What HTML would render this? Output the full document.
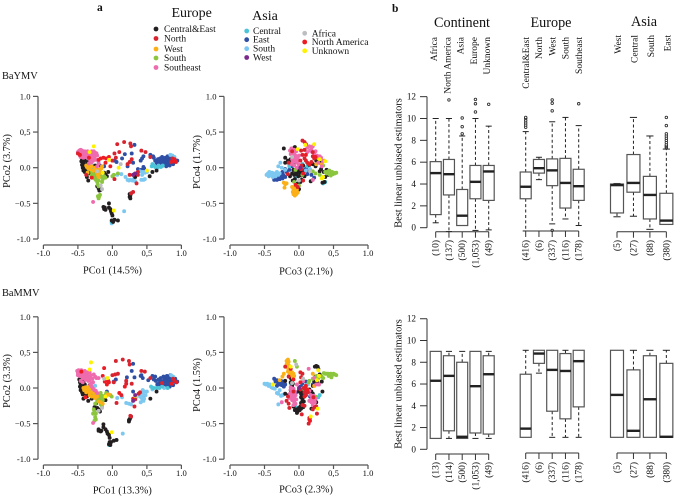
<!DOCTYPE html>
<html><head><meta charset="utf-8"><title>BaYMV and BaMMV PCoA and boxplots</title>
<style>html,body{margin:0;padding:0;background:#fff}svg{display:block;font-family:"Liberation Serif",serif;filter:blur(0.3px)}</style>
</head><body>
<svg id="fig" width="677" height="497" viewBox="0 0 677 497" xmlns="http://www.w3.org/2000/svg"></svg>
<script>
const seriesNames = ['East','SouthAsia','CentralAsia','CentralEast','South','West','Southeast','North','NorthAmerica','Unknown','Africa','WestAsia'];
const seriesColors = ['#2f4fa5','#7cc8f0','#4cc4d8','#231f20','#8cc63f','#fbb017','#ee6cae','#d9232e','#ed1c24','#fff200','#bcbec0','#7b2a8c'];
const xTickValues = [-1,-0.5,0,0.5,1];
const xTickLabels = ['-1.0','-0.5','0.0','0,5','1.0'];
const yTickLabels = ['-1.0','\u22120.5','0.0','0,5','1.0'];

/* BaYMV PCo1 / PCo2 */
const p1East = [[.62,.1],[.64,.07],[.66,.12],[.66,.05],[.68,.09],[.69,.13],[.7,.06],[.7,.03],[.72,.1],[.72,.15],[.73,.07],[.74,.12],[.75,.04],[.76,.09],[.77,.14],[.78,.07],[.78,.02],[.79,.11],[.8,.16],[.8,.05],[.81,.09],[.82,.13],[.83,.03],[.83,.07],[.84,.11],[.85,.15],[.86,.07],[.87,.1],[.88,.05],[.89,.13],[.9,.09],[.92,.1],[.94,.1],[.6,.14],[.55,.18],[.59,.16],[.18,.19],[.28,.2],[.32,.32],[.03,.1],[.06,.08],[.45,.16],[.43,.13],[.41,.1],[.45,.01],[.3,.07],[.22,.02],[.37,-.02],[.46,-.01],[.42,-.03],[.32,-.09],[.14,.13],[-.18,.03],[-.12,.02],[.71,.08],[.74,.09],[.76,.06],[.75,.12],[.78,.1],[.8,.12],[.82,.08],[.84,.06],[.86,.12],[.79,.05],[.77,.11],[.73,.13],[.68,.12],[.85,.13],[.88,.1],[.83,.14],[.81,.15],[.9,.11]];
const p1SouthAsia = [[.07,-.1],[.13,-.09],[.19,-.13],[.22,-.17],[.24,-.18],[.26,-.17],[.29,-.18],[.31,-.16],[.33,-.19],[.42,-.17],[.45,-.17],[.47,-.16],[.4,-.05],[.44,-.06],[.47,-.07],[.5,-.06],[.43,-.1],[.17,-.61],[-.01,-.78],[.84,.18],[.87,.17],[.9,.15],[-.3,.05],[-.25,.02],[-.2,.08],[.72,.02]];
const p1CentralAsia = [[.58,.05],[.6,.03],[.62,.01],[.65,0],[.67,.03],[.7,.01],[.73,.03],[.57,.02],[-.01,-.76],[-.28,-.02],[-.35,.1]];
const p1CentralEast = [[-.45,.16],[-.44,.12],[-.45,.09],[-.43,.07],[-.44,.04],[-.42,.02],[-.43,0],[-.41,.05],[-.4,.1],[-.42,-.04],[-.4,-.06],[-.38,-.01],[-.36,.08],[-.33,.12],[-.37,-.13],[-.35,-.18],[-.3,-.13],[-.27,-.06],[-.24,-.12],[-.22,-.26],[-.2,-.29],[-.19,-.32],[-.17,-.31],[-.12,-.07],[-.1,-.1],[-.08,-.12],[-.06,-.06],[-.13,-.55],[-.12,-.58],[-.11,-.56],[-.1,-.59],[-.05,-.5],[-.05,-.56],[-.03,-.58],[-.02,-.61],[-.01,-.64],[0,-.67],[-.01,-.74],[.01,-.76],[.03,-.73],[.08,-.74],[.25,-.37],[.26,-.39],[.25,-.41],[.26,-.43],[.27,-.36],[.54,-.12],[.64,-.04],[.33,-.13],[.58,-.06],[-.39,.03],[-.37,-.05],[-.34,-.08],[-.41,-.01],[-.33,-.03],[-.25,.03]];
const p1South = [[-.34,-.02],[-.3,-.05],[-.27,-.09],[-.25,-.1],[-.24,-.17],[-.22,-.2],[-.21,-.24],[-.2,-.18],[-.2,-.26],[-.15,-.2],[-.2,-.43],[-.19,-.4],[-.18,-.38],[-.21,-.4],[-.12,-.12],[-.1,-.14],[0,-.12],[.02,-.1],[.08,-.08],[-.18,-.1],[-.16,-.13],[-.3,-.1],[-.26,-.15],[-.23,-.14],[-.14,-.16]];
const p1West = [[-.38,.03],[-.37,.01],[-.35,-.01],[-.34,.04],[-.32,-.02],[-.36,-.07],[-.25,0],[-.22,-.03],[-.2,-.03],[-.18,-.05],[-.19,-.08],[-.21,-.1],[-.23,-.06],[-.16,-.01],[-.15,.02],[-.2,-.13],[-.28,-.04],[-.3,.02],[-.33,.0],[-.35,.03],[-.2,-.06],[-.24,-.03]];
const p1Southeast = [[-.5,.22],[-.48,.24],[-.48,.2],[-.47,.17],[-.46,.25],[-.45,.21],[-.44,.19],[-.44,.24],[-.42,.22],[-.41,.18],[-.4,.23],[-.39,.15],[-.38,.2],[-.37,.17],[-.36,.23],[-.35,.13],[-.34,.19],[-.33,.15],[-.32,.21],[-.31,.17],[-.3,.23],[-.29,.13],[-.28,.19],[-.27,.23],[-.26,.17],[-.25,.21],[-.23,.2],[-.22,.17],[-.24,.11],[-.3,.08],[-.22,.02],[-.2,.06],[-.34,.06],[-.42,.14],[-.46,.15],[-.28,-.48],[-.47,.21],[-.43,.2],[-.4,.17],[-.37,.21],[-.33,.18],[-.29,.2],[-.26,.14],[-.32,.1],[-.28,.1],[-.36,.16]];
const p1North = [[.07,.33],[.17,.36],[.26,.34],[.27,.3],[.03,.2],[.1,.22],[0,.1],[.05,.14],[.25,.08],[.22,.05],[.28,.12],[.42,.24],[.48,.22],[.25,-.1],[.3,-.1],[.35,-.22],[.3,-.34],[.27,-.36],[.03,-.16],[.87,.13],[.9,.1],[.85,.08],[.55,.15],[-.5,.2],[-.38,-.1],[.37,-.1],[.37,-.06]];
const p1NorthAmerica = [[-.13,.14],[-.09,.13],[-.05,.15],[-.17,.13],[-.1,.07],[-.03,.02],[.92,.08],[.88,.09],[.9,.12],[-.3,-.14],[-.34,.14],[-.2,.11],[-.47,.18]];
const p1Unknown = [[-.27,.3],[.02,-.6],[.5,-.04],[-.05,.11],[.09,0],[-.14,-.07],[-.33,.22]];
const p1Africa = [[-.15,-.3],[-.22,-.05],[-.17,-.25],[.12,.05]];
const p1WestAsia = [[.33,-.08],[.3,-.1]];

/* BaYMV PCo3 / PCo4 */
const p2East = [[-.36,-.17],[-.34,-.15],[-.32,-.17],[-.3,-.14],[-.28,-.16],[-.26,-.13],[-.24,-.15],[-.22,-.11],[-.2,-.13],[-.32,-.13],[-.18,-.06],[-.14,-.03],[-.1,.02],[0,-.08],[.05,-.03],[.1,-.01],[.12,-.09],[.14,-.05],[.18,-.1],[.22,-.14],[-.24,-.06],[-.2,-.02],[-.27,-.12],[-.23,-.1],[.08,-.05],[.03,-.06]];
const p2SouthAsia = [[-.47,-.1],[-.45,-.08],[-.44,-.12],[-.42,-.09],[-.4,-.11],[-.39,-.07],[-.37,-.1],[-.35,-.08],[-.34,-.12],[-.32,-.06],[-.3,-.1],[-.28,-.08],[-.3,.02],[-.27,.07],[-.2,-.03],[-.14,.04],[.06,.02],[.1,-.04],[.16,-.02],[-.43,-.06],[-.38,-.13],[-.25,.0]];
const p2CentralAsia = [[.38,-.2],[.35,-.22],[-.14,.02],[.05,.05],[.12,.02],[-.05,-.13]];
const p2CentralEast = [[-.22,.27],[-.2,.14],[-.2,.07],[-.16,.1],[-.14,.08],[-.12,.12],[-.1,.06],[-.08,.27],[-.06,.29],[-.05,.08],[-.08,-.03],[-.05,-.05],[-.02,-.06],[0,-.04],[.02,-.07],[-.1,-.08],[-.07,-.1],[-.04,-.09],[-.01,-.12],[.03,-.11],[.05,-.07],[-.13,-.12],[-.09,-.18],[-.06,-.16],[-.02,-.22],[.02,-.2],[0,-.3],[-.02,-.33],[.15,.04],[.2,.05],[.25,.1],[.3,.07],[.32,-.02],[.3,-.05],[.36,-.06],[.38,-.13],[.42,-.1],[.37,-.2],[.34,-.21],[.17,-.19],[.24,.02],[.4,-.03],[.28,.1],[-.03,-.02],[.06,.03],[.08,-.12],[.04,-.17]];
const p2South = [[.38,-.06],[.42,-.05],[.44,-.09],[.46,-.07],[.48,-.06],[.5,-.07],[.52,-.08],[.54,-.07],[.46,-.11],[.4,-.08],[.2,-.05],[.24,-.08],[.3,-.1],[.35,.03],[.05,-.1],[-.07,-.2],[-.05,-.03],[0,-.25],[-.04,-.27],[.44,-.04],[.49,-.09]];
const p2West = [[-.22,-.21],[-.2,-.23],[-.18,-.22],[-.21,-.28],[-.1,-.27],[-.08,-.3],[-.06,-.28],[-.09,-.34],[-.07,-.36],[-.05,-.33],[-.06,-.39],[-.04,-.37],[-.03,-.31],[-.02,-.35],[.28,.13],[.25,.05],[.36,.1],[.33,.05],[-.07,-.32],[-.05,-.3],[-.08,-.37]];
const p2Southeast = [[-.13,.24],[-.11,.27],[-.1,.22],[-.12,.19],[-.08,.16],[-.1,.12],[-.07,.2],[-.05,.17],[-.03,.13],[-.06,.09],[-.03,.07],[-.01,.1],[0,.17],[-.04,.23],[0,.04],[-.07,.03],[-.03,0],[.12,.28],[.15,.3],[.18,.26],[.2,.3],[.16,.24],[.22,.2],[.26,.17],[.3,.16],[.32,.14],[.35,.09],[.28,.07],[.33,.02],[.2,-.17],[.12,.22],[-.12,.05],[-.09,.19],[-.06,.13],[-.09,.08],[-.02,.14],[-.07,.25],[.19,.22],[.24,.23]];
const p2North = [[.05,.38],[.08,.36],[.1,.33],[.08,.25],[.03,.24],[.05,.18],[.08,.13],[.1,.1],[.02,.1],[.04,.03],[.12,.07],[.2,.22],[.2,.16],[.22,.13],[.18,.08],[.06,-.18],[-.02,-.27],[-.1,.23],[-.16,-.09],[-.15,.07]];
const p2NorthAmerica = [[.1,.18],[.15,.05],[-.05,-.24],[.03,-.02],[.24,.15],[.06,-.08]];
const p2Unknown = [[.22,.33],[.09,.32],[.3,.12],[.38,.09],[.33,-.15],[.35,-.13],[-.02,.26]];
const p2Africa = [[0,-.18],[.16,-.05],[-.1,.15]];
const p2WestAsia = [[.02,0]];

/* BaMMV PCo1 / PCo2 */
const p3East = [[.63,.1],[.65,.05],[.67,.12],[.68,.07],[.7,.03],[.7,.14],[.72,.09],[.73,.05],[.74,.16],[.75,.11],[.76,.03],[.77,.07],[.78,.13],[.79,.17],[.8,.05],[.81,.09],[.82,.14],[.83,.02],[.84,.18],[.85,.07],[.86,.12],[.87,.15],[.88,.04],[.89,.1],[.91,.13],[.92,.08],[.94,.09],[.58,.17],[.6,.12],[.62,.16],[.52,.11],[.42,.18],[.44,.14],[.41,.17],[.28,.24],[.3,.34],[.21,.15],[.02,.09],[.05,.12],[.32,.15],[.3,-.05],[.42,-.09],[.45,-.12],[-.08,-.05],[.71,.06],[.74,.08],[.76,.1],[.79,.08],[.83,.1],[.8,.13],[.85,.1],[.87,.09],[.7,.09],[.77,.04],[.82,.05],[.84,.13]];
const p3SouthAsia = [[.07,-.14],[.14,-.13],[.2,-.21],[.24,-.22],[.27,-.23],[.34,-.13],[.4,-.12],[.42,-.08],[.44,-.03],[.46,-.05],[.43,-.15],[.45,-.18],[.41,-.2],[.48,-.1],[.5,-.05],[.15,-.64],[-.05,-.8],[-.04,-.78],[.85,.18],[.88,.16],[.75,0],[-.33,-.02],[-.25,.03],[.58,-.02],[.42,-.13],[.44,-.1],[.46,-.15]];
const p3CentralAsia = [[.56,.02],[.58,0],[.6,0],[.64,0],[.68,0],[.72,.02],[.8,0],[-.04,-.8],[-.28,-.04]];
const p3CentralEast = [[-.48,.12],[-.47,.08],[-.46,.05],[-.47,.02],[-.45,0],[-.46,-.03],[-.44,-.06],[-.42,.09],[-.43,-.09],[-.41,0],[-.39,-.05],[-.37,-.12],[-.42,-.15],[-.35,-.18],[-.33,.04],[-.3,-.15],[-.28,-.1],[-.26,-.27],[-.25,-.29],[-.22,-.28],[-.24,-.22],[-.2,-.3],[-.18,-.33],[-.16,-.6],[-.2,-.58],[-.2,-.6],[-.17,-.61],[-.13,-.51],[-.13,-.55],[-.1,-.58],[-.08,-.61],[-.07,-.64],[-.05,-.66],[-.04,-.7],[-.04,-.76],[-.05,-.79],[-.03,-.8],[-.02,-.76],[.02,-.74],[.06,-.73],[.24,-.47],[.25,-.44],[.26,-.42],[.27,-.4],[.24,-.45],[.55,-.15],[.64,-.05],[-.1,-.17],[-.44,.03],[-.42,-.03],[-.4,.05],[-.38,-.08],[-.35,-.1]];
const p3South = [[-.34,-.05],[-.3,-.1],[-.27,-.12],[-.23,-.08],[-.2,-.14],[-.17,-.07],[-.15,-.11],[-.14,-.17],[-.12,-.12],[-.1,-.1],[-.09,-.07],[-.25,-.22],[-.27,-.3],[-.26,-.33],[-.24,-.36],[-.25,-.41],[-.24,-.44],[-.26,-.46],[-.17,-.23],[-.15,-.26],[-.03,-.1],[-.01,-.12],[-.18,-.15],[-.28,-.36],[-.22,-.18],[-.19,-.1],[-.16,-.15]];
const p3West = [[-.42,0],[-.41,-.03],[-.39,.01],[-.38,-.06],[-.36,-.02],[-.35,-.05],[-.34,.02],[-.33,-.1],[-.3,-.12],[-.28,-.06],[-.26,-.1],[-.25,-.14],[-.22,-.12],[-.2,-.19],[-.17,-.2],[-.14,-.22],[-.08,-.1],[-.05,-.09],[-.3,-.01],[-.37,-.03],[-.33,-.06],[-.4,-.02]];
const p3Southeast = [[-.51,.24],[-.5,.21],[-.5,.18],[-.49,.25],[-.48,.2],[-.47,.23],[-.46,.17],[-.45,.25],[-.44,.2],[-.43,.14],[-.42,.22],[-.41,.17],[-.4,.24],[-.39,.12],[-.38,.19],[-.37,.15],[-.36,.22],[-.35,.1],[-.34,.16],[-.33,.22],[-.32,.13],[-.31,.18],[-.3,.07],[-.29,.13],[-.27,.19],[-.25,.16],[-.23,.14],[-.3,.02],[-.28,-.01],[-.26,-.03],[-.24,-.04],[-.22,-.07],[-.46,.1],[-.43,.08],[-.28,-.49],[-.2,.14],[-.48,.17],[-.44,.23],[-.41,.2],[-.38,.14],[-.35,.17],[-.33,.11],[-.28,.08],[-.32,.05]];
const p3North = [[.05,.38],[.15,.4],[.24,.38],[.25,.33],[.04,.19],[.08,.2],[0,.18],[.02,.08],[.2,.1],[.2,.06],[.28,.06],[.42,.24],[.47,.23],[.13,-.1],[.3,-.15],[.33,-.16],[.32,-.26],[.26,-.39],[.27,-.4],[.06,-.21],[.88,.13],[.9,.1],[.55,.14],[.72,.07],[.38,-.08],[.4,-.06]];
const p3NorthAmerica = [[-.12,.28],[-.14,.17],[-.11,.09],[-.06,.1],[-.05,.08],[-.08,.05],[-.39,-.13],[-.45,.23],[.93,.08],[.86,.06],[.18,.02],[.1,-.07]];
const p3Unknown = [[-.31,.36],[-.01,-.62],[.33,-.11],[-.07,.14],[-.33,.26],[-.1,-.12]];
const p3Africa = [[-.2,-.32],[-.15,-.28],[-.12,.13]];
const p3WestAsia = [[.33,-.1],[.3,-.18]];

/* BaMMV PCo3 / PCo4 */
const p4East = [[-.36,.13],[-.34,.09],[-.32,.11],[-.3,.06],[-.29,.1],[-.27,.08],[-.25,.04],[-.24,.09],[-.22,.02],[-.32,.03],[-.2,.05],[0,-.02],[.02,.02],[.06,-.08],[.1,-.1],[.16,-.12],[.1,.09],[.2,.05],[.05,.05],[-.04,-.06],[-.28,.05],[-.26,.1],[-.24,.06]];
const p4SouthAsia = [[-.5,.06],[-.48,.05],[-.46,.06],[-.44,.03],[-.42,.05],[-.4,.01],[-.38,0],[-.35,-.01],[-.32,-.07],[-.3,-.08],[-.28,-.03],[-.26,-.11],[-.24,-.1],[-.22,-.09],[-.03,-.28],[-.01,-.3],[.08,.02],[.13,.05],[-.3,-.23]];
const p4CentralAsia = [[-.04,-.27],[.05,-.01],[-.12,.06],[.3,-.1],[.28,-.13]];
const p4CentralEast = [[-.1,.1],[-.12,.08],[-.1,.03],[-.12,-.03],[-.2,.1],[-.15,-.1],[-.12,-.11],[-.1,.17],[-.12,.2],[0,-.05],[.03,-.08],[.05,-.06],[.06,-.13],[.03,-.13],[.05,-.17],[.07,-.19],[.03,-.21],[.05,-.24],[.06,-.27],[.03,-.29],[.01,-.31],[-.02,-.33],[-.03,-.35],[-.06,-.31],[-.08,-.26],[.23,.3],[.25,.31],[.27,.3],[.28,.27],[.24,.16],[.3,.19],[.22,.09],[.2,.03],[.15,-.02],[.18,-.05],[.2,-.08],[.27,.07],[.34,-.05],[.25,-.2],[.18,-.29],[.33,.09],[-.2,-.08],[.0,-.28],[-.04,-.3],[.02,-.26],[-.12,.14],[-.09,.06]];
const p4South = [[.2,.13],[.23,.15],[.26,.17],[.3,.17],[.33,.16],[.36,.21],[.38,.2],[.4,.2],[.42,.2],[.44,.19],[.46,.2],[.48,.18],[.5,.2],[.52,.19],[.54,.18],[.47,.15],[.35,.14],[.15,.1],[.14,.08],[-.06,.38],[-.03,.3],[.08,-.03],[.12,-.02],[-.08,-.18],[.24,-.12],[.28,.14],[.43,.17]];
const p4West = [[-.16,.4],[-.18,.38],[-.15,.37],[-.18,.33],[-.15,.32],[-.16,.28],[-.13,.3],[-.13,.25],[-.16,.23],[-.12,.21],[-.14,.18],[-.1,.22],[-.08,.2],[-.07,.17],[-.09,.14],[-.22,.2],[-.24,.16],[.28,.05],[.22,.03],[-.28,.11],[.2,.2],[-.17,.35],[-.14,.27],[-.11,.18]];
const p4Southeast = [[-.12,-.02],[-.1,-.05],[-.08,-.01],[-.13,-.08],[-.11,-.12],[-.09,-.08],[-.06,-.05],[-.08,-.14],[-.05,-.1],[-.1,-.17],[-.07,-.19],[-.04,-.16],[-.05,-.22],[-.08,-.24],[-.12,.01],[-.14,-.14],[-.03,.05],[.15,-.04],[.17,-.1],[.19,-.14],[.21,-.17],[.18,-.2],[.23,-.2],[.15,-.18],[.2,-.24],[.24,-.15],[.14,.27],[.06,.1],[.22,.14],[.25,.05],[.29,.05],[-.25,-.2],[-.1,-.1],[-.07,-.11],[-.06,-.15],[-.11,-.03],[.18,-.16],[.21,-.11]];
const p4North = [[-.2,.3],[-.15,.16],[-.16,-.12],[-.18,-.18],[-.15,-.22],[-.14,-.28],[-.08,-.05],[.02,.22],[.05,.2],[.03,.15],[.09,-.01],[.11,-.03],[.13,-.06],[.08,-.06],[.1,-.1],[.07,0],[.05,-.24],[.08,-.25],[.04,-.37],[.15,-.44],[.15,-.42],[.14,-.5],[.26,-.36],[.21,-.13],[.25,-.26],[.23,-.27],[.2,-.3],[-.12,.27]];
const p4NorthAmerica = [[.12,-.02],[.1,.03],[.08,-.12],[.02,-.02],[-.08,.12],[.16,-.46],[.16,-.42],[.02,.08]];
const p4Unknown = [[-.12,.3],[.28,.25],[.29,.17],[.17,-.4],[.27,-.29],[.26,.11],[-.38,.05]];
const p4Africa = [[-.04,.33],[.06,.13],[-.1,.07]];
const p4WestAsia = [[0,0]];

/* Boxplot values: [low whisker, Q1, median, Q3, high whisker] */
const contNames = ['Africa','North America','Asia','Europe','Unknown'];
const euroNames = ['Central&East','North','West','South','Southeast'];
const asiaNames = ['West','Central','South','East'];
const topContStats = [[.45,1.2,5,6.05,10],[-.35,3,4.9,6.25,10],[.2,.2,1.1,3.5,8.4],[-.25,2.65,4.2,5.7,10],[-.2,2.5,5.15,5.7,9.3]];
const topContOutliers = [[],[11.7],[8.6,9.25,10.05],[10.6,11.35,11.75],[11.3]];
const topContCounts = ['(10)','(137)','(500)','(1,053)','(49)'];
const topEuroStats = [[-.3,2.65,3.75,5.1,8.8],[4.4,5,5.45,6.25,6.45],[.35,3.85,5.25,6.3,9.7],[.8,1.8,4.1,6.35,10.1],[.2,2.5,3.8,5.35,9.35]];
const topEuroOutliers = [[9.2,9.4,9.6,9.8,10,10.1],[],[-.25,10.7,11.4,11.7],[],[11.35]];
const topEuroCounts = ['(416)','(6)','(337)','(116)','(178)'];
const topAsiaStats = [[1,1.35,3.9,4,4.05],[1.05,3.25,4.1,6.7,10.1],[-.15,.8,3,4.7,8.4],[.3,.3,.65,3.15,7.2]];
const topAsiaOutliers = [[],[],[],[7.3,7.4,7.5,7.6,7.8,8,8.2,8.4,8.6,9.35,10.1]];
const topAsiaCounts = ['(5)','(27)','(88)','(380)'];
const botContStats = [[1,1,6.3,9,9],[1,1.7,6.75,8.6,9],[1,1,1.15,8,9],[1,1.5,5.8,9,9],[1,1.4,6.9,8.6,9]];
const botContCounts = ['(13)','(114)','(500)','(1,053)','(49)'];
const botEuroStats = [[1.1,1.1,1.9,6.9,9.1],[7,7.9,8.8,9.1,9.1],[1.1,3.5,7.3,9.1,9.1],[1.1,2.8,7.2,8.8,9.1],[1.1,3.9,8.1,9.1,9.1]];
const botEuroCounts = ['(416)','(6)','(337)','(116)','(178)'];
const botAsiaStats = [[1.1,1.1,5,9.1,9.1],[1.1,1.1,1.7,7.3,9.1],[1.1,1.1,4.6,8.6,9.1],[1.1,1.1,1.15,7.9,9.1]];
const botAsiaCounts = ['(5)','(27)','(88)','(380)'];
const boxTickValues = [0,2,4,6,8,10,12];
const boxTickLabels = ['0','2','4','6','8','10','12'];

const svg = document.getElementById('fig');
const NS = 'http://www.w3.org/2000/svg';
const AXIS = '#555';
function mk(tag, attrs, name, txt) {
  const el = document.createElementNS(NS, tag);
  for (const k in attrs) el.setAttribute(k, attrs[k]);
  
  
  if (txt !== undefined) el.textContent = txt;
  svg.appendChild(el);
  return el;
}
function line(x1, y1, x2, y2, name, extra) {
  return mk('line', Object.assign({x1, y1, x2, y2, stroke: AXIS, 'stroke-width': 1.2}, extra || {}), name);
}
function text(x, y, s, size, anchor, name, extra) {
  return mk('text', Object.assign({x, y, 'font-size': size, 'text-anchor': anchor || 'start', fill: '#111'}, extra || {}), name, s);
}
function vtext(x, y, s, size, anchor, name) {
  return text(x, y, s, size, anchor, name, {transform: 'rotate(-90 ' + x + ' ' + y + ')'});
}

/* Static labels */
text(97, 11, 'a', 11.5, 'start', 'panel-a-label', {'font-weight': 'bold'});
text(392, 12, 'b', 11.5, 'start', 'panel-b-label', {'font-weight': 'bold'});
text(191.7, 17, 'Europe', 14, 'middle', 'legend-europe-title');
text(265, 20, 'Asia', 14, 'middle', 'legend-asia-title');
text(2, 79, 'BaYMV', 10.4, 'start', 'row-label-baymv');
text(2, 296, 'BaMMV', 10.4, 'start', 'row-label-bammv');

const legendDot = (x, y, c, label, tx, name) => {
  mk('circle', {cx: x, cy: y, r: 2.4, fill: c}, name + '-marker');
  text(tx, y + 3, label, 9.5, 'start', name);
};
legendDot(156, 29, seriesColors[3], 'Central&East', 164, 'legend-central-east');
legendDot(156, 38.5, seriesColors[7], 'North', 164, 'legend-north');
legendDot(156, 49, seriesColors[5], 'West', 164, 'legend-west');
legendDot(156, 58, seriesColors[4], 'South', 164, 'legend-south');
legendDot(156, 67.5, seriesColors[6], 'Southeast', 164, 'legend-southeast');
legendDot(246.7, 31, seriesColors[2], 'Central', 253, 'legend-asia-central');
legendDot(246.7, 39.7, seriesColors[0], 'East', 253, 'legend-asia-east');
legendDot(246.7, 48.7, seriesColors[1], 'South', 253, 'legend-asia-south');
legendDot(246.7, 57.5, seriesColors[11], 'West', 253, 'legend-asia-west');
legendDot(304.7, 33.3, seriesColors[10], 'Africa', 311.7, 'legend-africa');
legendDot(304.7, 42, seriesColors[8], 'North America', 311.7, 'legend-north-america');
legendDot(304.7, 50.8, seriesColors[9], 'Unknown', 311.7, 'legend-unknown');

/* Scatter panels */
function scatter(o) {
  const sx = v => o.x0 + v * 69;
  const sy = v => o.y0 - v * o.yu;
  line(o.ax, sy(1), o.ax, sy(-1), o.id + '-y-axis');
  xTickValues.forEach((v, i) => {
    line(o.ax - 5, sy(v), o.ax, sy(v), o.id + '-y-tick');
    text(o.ax - 7.5, sy(v) + 3, yTickLabels[i], 8.6, 'end', o.id + '-y-tick-label');
  });
  line(sx(-1), o.ay, sx(1), o.ay, o.id + '-x-axis');
  xTickValues.forEach((v, i) => {
    line(sx(v), o.ay, sx(v), o.ay + 4, o.id + '-x-tick');
    text(sx(v), o.ay + 11, xTickLabels[i], 8.6, 'middle', o.id + '-x-tick-label');
  });
  o.series.forEach((pts, si) => {
    pts.forEach(p => {
      const c = document.createElementNS(NS, 'circle');
      c.setAttribute('cx', sx(p[0]));
      c.setAttribute('cy', sy(p[1]));
      c.setAttribute('r', 1.95);
      c.setAttribute('fill', seriesColors[si]);
      
      
      svg.appendChild(c);
    });
  });
  text(o.xlx, o.xly, o.xl, 10.3, 'middle', o.id + '-x-axis-title');
  vtext(o.ylx, o.yly, o.yl, 10.3, 'middle', o.id + '-y-axis-title');
}
scatter({id:'baymv-pco12', x0:112.4, y0:167.7, yu:71.3, ax:38, ay:245, xl:'PCo1 (14.5%)', xlx:112.5, xly:273.5, yl:'PCo2 (3.7%)', ylx:10, yly:161,
  series:[p1East,p1SouthAsia,p1CentralAsia,p1CentralEast,p1South,p1West,p1Southeast,p1North,p1NorthAmerica,p1Unknown,p1Africa,p1WestAsia]});
scatter({id:'baymv-pco34', x0:299, y0:167.7, yu:71.3, ax:224, ay:245, xl:'PCo3 (2.1%)', xlx:306, xly:274.5, yl:'PCo4 (1.7%)', ylx:200, yly:162,
  series:[p2East,p2SouthAsia,p2CentralAsia,p2CentralEast,p2South,p2West,p2Southeast,p2North,p2NorthAmerica,p2Unknown,p2Africa,p2WestAsia]});
scatter({id:'bammv-pco12', x0:112.4, y0:388, yu:71.2, ax:38, ay:465, xl:'PCo1 (13.3%)', xlx:122.3, xly:493.5, yl:'PCo2 (3.3%)', ylx:10, yly:381,
  series:[p3East,p3SouthAsia,p3CentralAsia,p3CentralEast,p3South,p3West,p3Southeast,p3North,p3NorthAmerica,p3Unknown,p3Africa,p3WestAsia]});
scatter({id:'bammv-pco34', x0:299, y0:388, yu:71.2, ax:224, ay:465, xl:'PCo3 (2.3%)', xlx:306, xly:492.5, yl:'PCo4 (1.5%)', ylx:200, yly:385,
  series:[p4East,p4SouthAsia,p4CentralAsia,p4CentralEast,p4South,p4West,p4Southeast,p4North,p4NorthAmerica,p4Unknown,p4Africa,p4WestAsia]});

/* Boxplots */
function boxGroup(o) {
  const sy = v => o.y0 - v * o.u;
  const sx = i => o.start + i * o.step;
  o.stats.forEach((s, i) => {
    const x = sx(i), hw = o.w / 2, cap = hw * 0.55;
    const id = o.id + '-' + i;
    if (s[0] < s[1]) {
      line(x, sy(s[1]), x, sy(s[0]), id + '-lower-whisker', {stroke:'#222','stroke-dasharray':'3 2.4','stroke-width':1});
      line(x - cap, sy(s[0]), x + cap, sy(s[0]), id + '-lower-cap', {stroke:'#222','stroke-width':1});
    }
    if (s[4] > s[3]) {
      line(x, sy(s[3]), x, sy(s[4]), id + '-upper-whisker', {stroke:'#222','stroke-dasharray':'3 2.4','stroke-width':1});
      line(x - cap, sy(s[4]), x + cap, sy(s[4]), id + '-upper-cap', {stroke:'#222','stroke-width':1});
    }
    mk('rect', {x: x - hw, y: sy(s[3]), width: o.w, height: sy(s[1]) - sy(s[3]), fill: '#fff', stroke: '#555', 'stroke-width': 1.2}, id + '-box');
    line(x - hw, sy(s[2]), x + hw, sy(s[2]), id + '-median', {stroke:'#222','stroke-width':2.4});
    (o.out ? o.out[i] : []).forEach(v => {
      mk('circle', {cx: x, cy: sy(v), r: 1.25, fill: '#fff', stroke: '#333', 'stroke-width': .9}, id + '-outlier');
    });
    line(x, o.ay, x, o.ay + 6, id + '-count-tick', {stroke:'#333','stroke-width':1});
    vtext(x + 3, o.ly, o.counts[i], 9.5, 'end', id + '-count-label');
  });
  line(sx(0), o.ay, sx(o.stats.length - 1), o.ay, o.id + '-group-axis', {stroke:'#333','stroke-width':1});
}
function boxAxis(id, y0, u, tx) {
  const sy = v => y0 - v * u;
  line(427, sy(0), 427, sy(12), id + '-y-axis');
  boxTickValues.forEach((v, i) => {
    line(420, sy(v), 427, sy(v), id + '-y-tick', {stroke:'#333','stroke-width':1});
    text(416, sy(v) + 3, boxTickLabels[i], 9.2, 'end', id + '-y-tick-label');
  });
  vtext(401.5, tx, 'Best linear unbiased estimators', 10.4, 'middle', id + '-y-axis-title');
}
boxAxis('top-box', 227.7, 10.92, 163);
boxAxis('bottom-box', 449.3, 10.88, 384);
const contStart = 435.7, contStep = 13.25, euroStart = 525.7, asiaStart = 617, asiaStep = 16.45;
boxGroup({id:'top-continent', stats:topContStats, out:topContOutliers, counts:topContCounts, y0:227.7, u:10.92, start:contStart, step:contStep, w:11, ay:231.7, ly:240});
boxGroup({id:'top-europe', stats:topEuroStats, out:topEuroOutliers, counts:topEuroCounts, y0:227.7, u:10.92, start:euroStart, step:contStep, w:11, ay:231, ly:240});
boxGroup({id:'top-asia', stats:topAsiaStats, out:topAsiaOutliers, counts:topAsiaCounts, y0:227.7, u:10.92, start:asiaStart, step:asiaStep, w:13, ay:231.7, ly:240});
boxGroup({id:'bottom-continent', stats:botContStats, counts:botContCounts, y0:449.3, u:10.88, start:contStart, step:contStep, w:11, ay:454, ly:462});
boxGroup({id:'bottom-europe', stats:botEuroStats, counts:botEuroCounts, y0:449.3, u:10.88, start:euroStart, step:contStep, w:11, ay:453, ly:462});
boxGroup({id:'bottom-asia', stats:botAsiaStats, counts:botAsiaCounts, y0:449.3, u:10.88, start:asiaStart, step:asiaStep, w:13, ay:453, ly:462});

text(462, 27, 'Continent', 14.2, 'middle', 'column-title-continent');
text(551, 27, 'Europe', 14.2, 'middle', 'column-title-europe');
text(644, 26, 'Asia', 14.2, 'middle', 'column-title-asia');
contNames.forEach((n, i) => vtext(contStart + i * contStep + 1.5, 37, n, 9.5, 'end', 'category-label-continent'));
euroNames.forEach((n, i) => vtext(euroStart + i * contStep + 3.2, 37, n, 9.5, 'end', 'category-label-europe'));
asiaNames.forEach((n, i) => vtext(asiaStart + i * asiaStep + 4, 35, n, 9.5, 'end', 'category-label-asia'));
</script>
</body></html>
